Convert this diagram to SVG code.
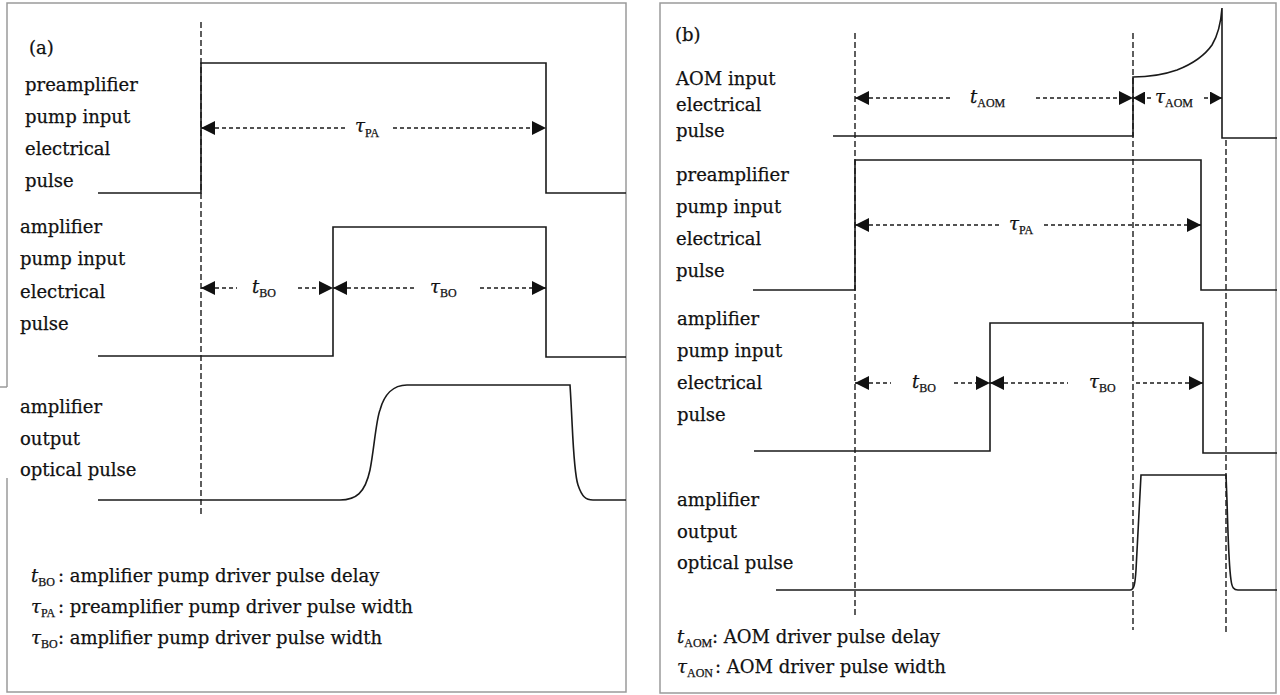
<svg xmlns="http://www.w3.org/2000/svg" width="1280" height="695" viewBox="0 0 1280 695">
<style>
text{font-family:"DejaVu Serif","Liberation Serif",serif;font-size:18px;fill:#111;stroke:#111;stroke-width:0.25}
.it{font-style:italic}
.sub{font-family:"Liberation Serif","DejaVu Serif",serif;font-size:12px}
.sig{fill:none;stroke:#1a1a1a;stroke-width:1.6}
.border{fill:none;stroke:#9a9a9a;stroke-width:1.5}
.vd{fill:none;stroke:#1a1a1a;stroke-width:1.4;stroke-dasharray:6 3}
.hd{fill:none;stroke:#1a1a1a;stroke-width:1.4;stroke-dasharray:4 3}
</style>
<defs>
<marker id="ah" markerUnits="userSpaceOnUse" markerWidth="14" markerHeight="14" refX="14" refY="7" orient="auto-start-reverse"><path d="M0,0 L14,7 L0,14 z" fill="#111"/></marker>
<marker id="ahs" markerUnits="userSpaceOnUse" markerWidth="12" markerHeight="13" refX="12" refY="6.5" orient="auto-start-reverse"><path d="M0,0 L12,6.5 L0,13 z" fill="#111"/></marker>
</defs>
<rect width="1280" height="695" fill="#fff"/>

<!-- Panel (a) -->
<g id="panel-a">
  <path class="border" d="M7,387 V3 H626 V692 H7 V478 M0,387 H7"/>
  <text x="29" y="54">(a)</text>
  <g id="a-preamp">
    <text x="25" y="91">preamplifier</text>
    <text x="25" y="123">pump input</text>
    <text x="25" y="155">electrical</text>
    <text x="25" y="187">pulse</text>
    <path class="sig" d="M98,193 H201 V63 H546 V193 H626"/>
  </g>
  <g id="a-amp">
    <text x="20" y="233">amplifier</text>
    <text x="20" y="265">pump input</text>
    <text x="20" y="298">electrical</text>
    <text x="20" y="330">pulse</text>
    <path class="sig" d="M98,356 H333 V227 H546 V357 H626"/>
  </g>
  <g id="a-out">
    <text x="20" y="413">amplifier</text>
    <text x="20" y="445">output</text>
    <text x="20" y="476">optical pulse</text>
    <path class="sig" d="M98,500 H340 C356,500 365,493 370,470 C374,450 376,420 380,410 C384,395 393,385 407,385 H570 C573,430 573,470 578,485 C582,497 586,500 593,500 H626"/>
  </g>
  <g id="a-legend">
    <text x="31" y="582"><tspan class="it">t</tspan><tspan class="sub" dy="4">BO</tspan><tspan x="58" dy="-4">: amplifier pump driver pulse delay</tspan></text>
    <text x="31" y="613"><tspan class="it">τ</tspan><tspan class="sub" dy="4">PA</tspan><tspan x="58" dy="-4">: preamplifier pump driver pulse width</tspan></text>
    <text x="31" y="644"><tspan class="it">τ</tspan><tspan class="sub" dy="4">BO</tspan><tspan x="58" dy="-4">: amplifier pump driver pulse width</tspan></text>
  </g>
  <g id="a-connectors">
    <path class="vd" d="M201,22 V515"/>
    <path class="hd" d="M201,128 H345" marker-start="url(#ah)"/>
    <path class="hd" d="M393,128 H546" marker-end="url(#ah)"/>
    <text x="355" y="132"><tspan class="it">τ</tspan><tspan class="sub" dy="5">PA</tspan></text>
    <path class="hd" d="M201,288 H237" marker-start="url(#ah)"/>
    <path class="hd" d="M298,288 H333" marker-end="url(#ah)"/>
    <text x="252" y="293"><tspan class="it">t</tspan><tspan class="sub" dy="4">BO</tspan></text>
    <path class="hd" d="M333,288 H415" marker-start="url(#ah)"/>
    <path class="hd" d="M480,288 H546" marker-end="url(#ah)"/>
    <text x="430" y="293"><tspan class="it">τ</tspan><tspan class="sub" dy="4">BO</tspan></text>
  </g>
</g>

<!-- Panel (b) -->
<g id="panel-b">
  <rect class="border" x="660" y="3" width="616" height="690"/>
  <text x="675" y="41">(b)</text>
  <g id="b-aom">
    <text x="676" y="85">AOM input</text>
    <text x="676" y="111">electrical</text>
    <text x="676" y="137">pulse</text>
    <path class="sig" d="M833,136 H1133 V77 C1145,77 1160,76 1177,70 C1195,63 1205,55 1212,45 C1218,35 1221,22 1222,8 V138 H1277"/>
  </g>
  <g id="b-preamp">
    <text x="676" y="181">preamplifier</text>
    <text x="676" y="213">pump input</text>
    <text x="676" y="245">electrical</text>
    <text x="676" y="277">pulse</text>
    <path class="sig" d="M753,290 H855 V160 H1201 V290 H1277"/>
  </g>
  <g id="b-amp">
    <text x="677" y="325">amplifier</text>
    <text x="677" y="357">pump input</text>
    <text x="677" y="389">electrical</text>
    <text x="677" y="421">pulse</text>
    <path class="sig" d="M754,451 H990 V323 H1203 V453 H1277"/>
  </g>
  <g id="b-out">
    <text x="677" y="506">amplifier</text>
    <text x="677" y="538">output</text>
    <text x="677" y="569">optical pulse</text>
    <path class="sig" d="M776,590 H1130 C1134,590 1135,585 1136,570 L1141,475 H1226 C1228,520 1228,560 1231,580 C1232,588 1234,590 1238,590 H1277"/>
  </g>
  <g id="b-legend">
    <text x="677" y="643"><tspan class="it">t</tspan><tspan class="sub" dy="4">AOM</tspan><tspan x="712" dy="-4">: AOM driver pulse delay</tspan></text>
    <text x="677" y="673"><tspan class="it">τ</tspan><tspan class="sub" dy="4">AON</tspan><tspan x="715" dy="-4">: AOM driver pulse width</tspan></text>
  </g>
  <g id="b-connectors">
    <path class="vd" d="M855,33 V616"/>
    <path class="vd" d="M1133,33 V630"/>
    <path class="vd" d="M1226,140 V633"/>
    <path class="hd" d="M855,98 H951" marker-start="url(#ah)"/>
    <path class="hd" d="M1036,98 H1133" marker-end="url(#ah)"/>
    <text x="970" y="103"><tspan class="it">t</tspan><tspan class="sub" dy="4">AOM</tspan></text>
    <path class="hd" d="M1133,98 H1152" marker-start="url(#ahs)"/>
    <path class="hd" d="M1204,98 H1222" marker-end="url(#ahs)"/>
    <text x="1155" y="103"><tspan class="it">τ</tspan><tspan class="sub" dy="4">AOM</tspan></text>
    <path class="hd" d="M855,225 H1000" marker-start="url(#ah)"/>
    <path class="hd" d="M1044,225 H1201" marker-end="url(#ah)"/>
    <text x="1009" y="230"><tspan class="it">τ</tspan><tspan class="sub" dy="4">PA</tspan></text>
    <path class="hd" d="M855,383 H891" marker-start="url(#ah)"/>
    <path class="hd" d="M954,383 H990" marker-end="url(#ah)"/>
    <text x="912" y="388"><tspan class="it">t</tspan><tspan class="sub" dy="4">BO</tspan></text>
    <path class="hd" d="M990,383 H1068" marker-start="url(#ah)"/>
    <path class="hd" d="M1136,383 H1203" marker-end="url(#ah)"/>
    <text x="1089" y="388"><tspan class="it">τ</tspan><tspan class="sub" dy="4">BO</tspan></text>
  </g>
</g>
</svg>
